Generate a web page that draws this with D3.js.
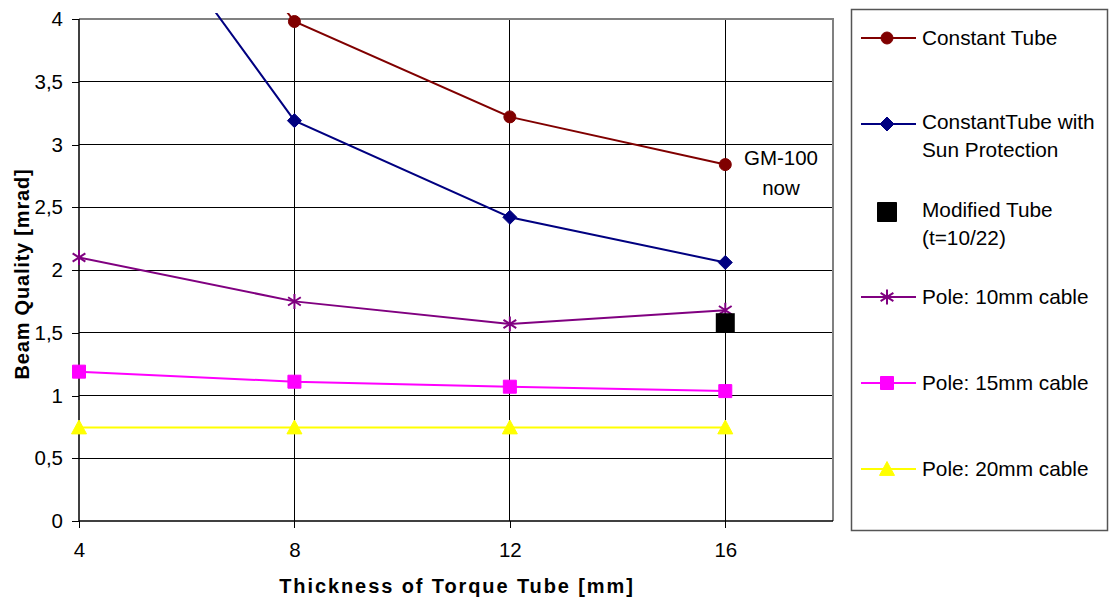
<!DOCTYPE html>
<html>
<head>
<meta charset="utf-8">
<script src="https://cdn.jsdelivr.net/npm/d3@7"></script>
<style>
  html, body { margin: 0; padding: 0; background: #fff; }
  svg { display: block; font-family: "Liberation Sans", Arial, sans-serif; }
</style>
</head>
<body>
<svg id="chart" width="1109" height="604"></svg>
<script>
// Torque tube thickness [mm]
const thickness = [4, 8, 12, 16];

// Beam quality [mrad] per configuration
const constantTube    = [6.2, 3.98, 3.22, 2.84];
const constantTubeSun = [5.55, 3.19, 2.42, 2.06];
const pole10          = [2.10, 1.75, 1.57, 1.68];
const pole15          = [1.19, 1.11, 1.07, 1.035];
const pole20          = [0.745, 0.745, 0.745, 0.745];

// Single measured point for the modified tube
const modifiedX = [16];
const modifiedY = [1.58];

const xTicks = [4, 8, 12, 16];
const yTicks = [0, 0.5, 1, 1.5, 2, 2.5, 3, 3.5, 4];
const yTickLabels = ["0", "0,5", "1", "1,5", "2", "2,5", "3", "3,5", "4"];

const seriesNames = ["Constant Tube", "ConstantTube with|Sun Protection", "Modified Tube|(t=10/22)",
                     "Pole: 10mm cable", "Pole: 15mm cable", "Pole: 20mm cable"];

const svg = d3.select("#chart");
const plot = { left: 79, right: 833, top: 19, bottom: 521 };

const x = d3.scaleLinear().domain([4, 18]).range([plot.left, plot.right]);
const y = d3.scaleLinear().domain([0, 4]).range([plot.bottom, plot.top]);

// gridlines
const grid = svg.append("g");
grid.selectAll("line.h").data(yTicks.filter(v => v > 0 && v < 4)).join("line")
  .attr("x1", plot.left).attr("x2", plot.right)
  .attr("y1", d => y(d)).attr("y2", d => y(d))
  .attr("stroke", "#000").attr("stroke-width", 1).attr("shape-rendering", "crispEdges");
grid.selectAll("line.v").data(xTicks.filter(v => v > 4)).join("line")
  .attr("x1", d => x(d)).attr("x2", d => x(d))
  .attr("y1", plot.top).attr("y2", plot.bottom)
  .attr("stroke", "#000").attr("stroke-width", 1).attr("shape-rendering", "crispEdges");

// plot area frame (top and right)
svg.append("path")
  .attr("d", `M${plot.left},${plot.top}H${plot.right}V${plot.bottom}`)
  .attr("fill", "none").attr("stroke", "#808080").attr("stroke-width", 2);

// axes
const yAxis = d3.axisLeft(y).tickValues(yTicks)
  .tickFormat((d, i) => yTickLabels[i]).tickSize(7).tickPadding(9);
const gy = svg.append("g").attr("transform", `translate(${plot.left},0)`).call(yAxis);
const xAxis = d3.axisBottom(x).tickValues(xTicks).tickSize(7).tickPadding(14);
const gx = svg.append("g").attr("transform", `translate(0,${plot.bottom})`).call(xAxis);
[gx, gy].forEach(g => {
  g.select(".domain").remove();
  g.selectAll("line").attr("stroke", "#000").attr("stroke-width", 1).attr("shape-rendering", "crispEdges");
  g.selectAll("text").attr("font-size", 20.5).attr("fill", "#000")
    .attr("font-family", "'Liberation Sans', Arial, sans-serif");
});
svg.append("line").attr("x1", plot.left).attr("x2", plot.left)
  .attr("y1", plot.top).attr("y2", plot.bottom + 1)
  .attr("stroke", "#000").attr("stroke-width", 1.5);
svg.append("line").attr("x1", plot.left).attr("x2", plot.right)
  .attr("y1", plot.bottom).attr("y2", plot.bottom)
  .attr("stroke", "#000").attr("stroke-width", 1.5);

// axis titles
svg.append("text")
  .attr("x", 457).attr("y", 586).attr("dy", "0.35em")
  .attr("text-anchor", "middle").attr("font-weight", "bold").attr("font-size", 20)
  .attr("letter-spacing", 1.9)
  .text("Thickness of Torque Tube [mm]");
svg.append("text")
  .attr("transform", "translate(22,274) rotate(-90)").attr("dy", "0.35em")
  .attr("text-anchor", "middle").attr("font-weight", "bold").attr("font-size", 20)
  .attr("letter-spacing", 0.8)
  .text("Beam Quality [mrad]");

// clip lines to the chart region
svg.append("clipPath").attr("id", "clip")
  .append("rect").attr("x", plot.left).attr("y", 13)
  .attr("width", plot.right - plot.left).attr("height", plot.bottom - 13);

// marker shapes
function markerPath(type, s) {
  const h = s / 2;
  switch (type) {
    case "circle": return d3.symbol(d3.symbolCircle, Math.PI * h * h)();
    case "diamond": return `M0,${-h}L${h},0L0,${h}L${-h},0Z`;
    case "square": return `M${-h},${-h}H${h}V${h}H${-h}Z`;
    case "triangle": return `M0,${-h}L${h},${h * 0.85}H${-h}Z`;
    case "star": {
      const d = h * 0.85;
      return `M0,${-h}V${h}M${-d},${-d * 0.65}L${d},${d * 0.65}M${-d},${d * 0.65}L${d},${-d * 0.65}`;
    }
  }
}

const series = [
  { values: constantTube,    color: "#800000", marker: "circle",   size: 12 },
  { values: constantTubeSun, color: "#000080", marker: "diamond",  size: 14 },
  { values: pole10,          color: "#800080", marker: "star",     size: 15 },
  { values: pole15,          color: "#FF00FF", marker: "square",   size: 13 },
  { values: pole20,          color: "#FFFF00", marker: "triangle", size: 15 }
];

const line = d3.line().x(d => x(d[0])).y(d => y(d[1]));

series.slice().reverse().forEach(s => {
  const pts = thickness.map((t, i) => [t, s.values[i]]);
  svg.append("path").datum(pts)
    .attr("clip-path", "url(#clip)")
    .attr("d", line).attr("fill", "none")
    .attr("stroke", s.color).attr("stroke-width", 2);
  svg.append("g").selectAll("path").data(pts.filter(p => p[1] <= 4.05)).join("path")
    .attr("transform", p => `translate(${x(p[0])},${y(p[1])})`)
    .attr("d", markerPath(s.marker, s.size))
    .attr("fill", s.marker === "star" ? "none" : s.color)
    .attr("stroke", s.color).attr("stroke-width", s.marker === "star" ? 2 : 1);
});

// modified tube point
svg.append("g").selectAll("path").data(modifiedX.map((v, i) => [v, modifiedY[i]])).join("path")
  .attr("transform", p => `translate(${x(p[0])},${y(p[1])})`)
  .attr("d", markerPath("square", 19)).attr("fill", "#000");

// annotation near the 16 mm constant tube point
svg.append("text").attr("x", 781).attr("y", 158).attr("dy", "0.35em")
  .attr("text-anchor", "middle").attr("font-size", 20.5).text("GM-100");
svg.append("text").attr("x", 781).attr("y", 188).attr("dy", "0.35em")
  .attr("text-anchor", "middle").attr("font-size", 20.5).text("now");

// legend
const legend = svg.append("g");
legend.append("rect").attr("x", 851.5).attr("y", 9.5).attr("width", 256).attr("height", 521)
  .attr("fill", "#fff").attr("stroke", "#555").attr("stroke-width", 1.5);

const legendItems = [
  { name: seriesNames[0], color: "#800000", marker: "circle",   size: 12, y: 38,  line: true },
  { name: seriesNames[1], color: "#000080", marker: "diamond",  size: 14, y: 124, line: true },
  { name: seriesNames[2], color: "#000",    marker: "square",   size: 19, y: 212, line: false },
  { name: seriesNames[3], color: "#800080", marker: "star",     size: 15, y: 297, line: true },
  { name: seriesNames[4], color: "#FF00FF", marker: "square",   size: 13, y: 383, line: true },
  { name: seriesNames[5], color: "#FFFF00", marker: "triangle", size: 15, y: 469, line: true }
];

legendItems.forEach(it => {
  const g = legend.append("g");
  if (it.line) {
    g.append("line").attr("x1", 861).attr("x2", 916).attr("y1", it.y).attr("y2", it.y)
      .attr("stroke", it.color).attr("stroke-width", 2);
  }
  g.append("path").attr("transform", `translate(887,${it.y})`)
    .attr("d", markerPath(it.marker, it.size))
    .attr("fill", it.marker === "star" ? "none" : it.color)
    .attr("stroke", it.color).attr("stroke-width", it.marker === "star" ? 2 : 1);
  const lines = it.name.split("|");
  const t = g.append("text").attr("x", 922).attr("font-size", 20.8).attr("fill", "#000");
  lines.forEach((l, i) => {
    t.append("tspan").attr("x", 922).attr("y", (lines.length > 1 ? it.y - 2 : it.y) + i * 28)
      .attr("dy", "0.35em").text(l);
  });
});
</script>
</body>
</html>
